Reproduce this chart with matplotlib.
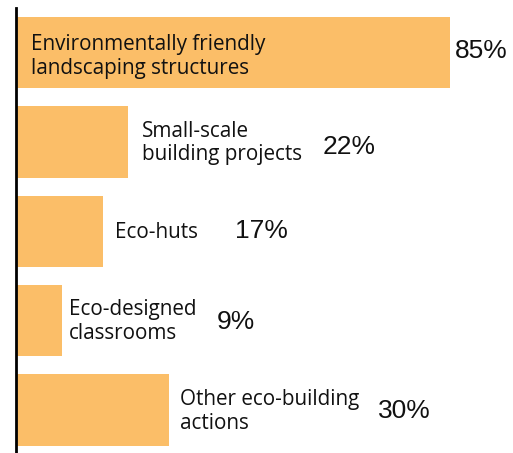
import matplotlib
matplotlib.use("Agg")
import matplotlib.pyplot as plt

# Share of schools reporting each type of eco-building action
categories = [
    "Environmentally friendly\nlandscaping structures",
    "Small-scale\nbuilding projects",
    "Eco-huts",
    "Eco-designed\nclassrooms",
    "Other eco-building\nactions",
]
values = [85, 22, 17, 9, 30]
value_labels = ["85%", "22%", "17%", "9%", "30%"]

BAR_COLOR = "#FBBE68"
W, H, DPI = 513, 453, 100

fig = plt.figure(figsize=(W / DPI, H / DPI), dpi=DPI)
ax = fig.add_axes([16 / W, 0, 1 - 16 / W, 445 / H])

ypos = list(range(len(values)))
ax.barh(ypos, values, height=0.8, color=BAR_COLOR, zorder=1)

ax.set_xlim(0, 97.3)
ax.set_ylim(4.48, -0.5)
for s in ["top", "right", "bottom"]:
    ax.spines[s].set_visible(False)
ax.spines["left"].set_linewidth(2)
ax.spines["left"].set_color("black")
ax.set_xticks([])
ax.set_yticks([])

# pixel offsets of category label and value label from the bar end
label_dx = [None, 14, 12, 7, 11]
value_dx = [5, 194, 132, 155, 209]
value_dy = [2, -5, 0, -1, -1]

label_font = dict(family=["Open Sans", "DejaVu Sans"], size=14.9, color="#111111")
value_font = dict(family=["Liberation Sans", "DejaVu Sans"], size=19, color="#111111")

for i, (cat, v, vl) in enumerate(zip(categories, values, value_labels)):
    if label_dx[i] is None:
        # label sits inside the long bar
        ax.annotate(cat, xy=(0, i), xytext=(15 * 72 / DPI, -4 * 72 / DPI), textcoords="offset points",
                    ha="left", va="center", linespacing=1.18, **label_font)
    else:
        ax.annotate(cat, xy=(v, i), xytext=(label_dx[i] * 72 / DPI, -1 * 72 / DPI), textcoords="offset points",
                    ha="left", va="center", linespacing=1.18, **label_font)
    ax.annotate(vl, xy=(v, i), xytext=(value_dx[i] * 72 / DPI, value_dy[i] * 72 / DPI),
                textcoords="offset points", ha="left", va="center", **value_font)

fig.savefig("out.png", dpi=DPI)
